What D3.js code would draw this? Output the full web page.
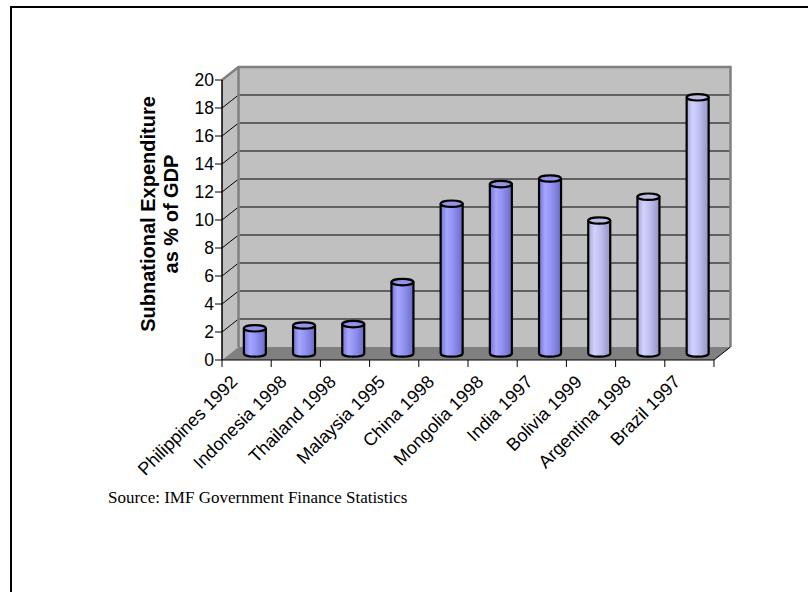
<!DOCTYPE html>
<html>
<head>
<meta charset="utf-8">
<script src="https://cdn.jsdelivr.net/npm/d3@7"></script>
<style>
  html, body { margin: 0; padding: 0; background: #fff; }
  svg { display: block; }
</style>
</head>
<body>
<svg id="chart" width="808" height="592"></svg>
<script>
// Subnational expenditure as a share of GDP, by country and year
const categories = [
  "Philippines 1992", "Indonesia 1998", "Thailand 1998", "Malaysia 1995",
  "China 1998", "Mongolia 1998", "India 1997", "Bolivia 1999",
  "Argentina 1998", "Brazil 1997"
];
const values = [1.8, 2.0, 2.1, 5.1, 10.7, 12.1, 12.5, 9.5, 11.2, 18.3];
const regions = [
  "Asia", "Asia", "Asia", "Asia", "Asia", "Asia", "Asia",
  "Latin America", "Latin America", "Latin America"
];
const yTicks = [0, 2, 4, 6, 8, 10, 12, 14, 16, 18, 20];
const yTitle = ["Subnational Expenditure", "as % of GDP"];
const sourceNote = "Source: IMF Government Finance Statistics";

const svg = d3.select("#chart");

// Front plane of the 3D box; the back wall is shifted by (depthX, depthY)
const x = d3.scaleBand().domain(categories).range([222, 714]).padding(0);
const y = d3.scaleLinear().domain([0, 20]).range([360, 80]);
const depthX = 16.5, depthY = -13;

const x0 = x.range()[0], x1 = x.range()[1];
const yBase = y(0), yTop = y(20);

// Outer frame
svg.append("path")
  .attr("d", "M11,592 V7 H808")
  .attr("fill", "none").attr("stroke", "#000").attr("stroke-width", 2);

// Left wall
svg.append("polygon")
  .attr("points", [[x0, yBase], [x0, yTop], [x0 + depthX, yTop + depthY], [x0 + depthX, yBase + depthY]].join(" "))
  .attr("fill", "#c0c0c0");

// Back wall
svg.append("rect")
  .attr("x", x0 + depthX).attr("y", yTop + depthY)
  .attr("width", x1 - x0).attr("height", yBase - yTop)
  .attr("fill", "#c0c0c0");

// Floor
svg.append("polygon")
  .attr("points", [[x0, yBase], [x0 + depthX, yBase + depthY], [x1 + depthX, yBase + depthY], [x1, yBase]].join(" "))
  .attr("fill", "#808080");

// Gridlines across the back wall and the left wall
const grid = svg.append("g");
yTicks.filter(v => v > 0 && v < 20).forEach(v => {
  grid.append("line")
    .attr("x1", x0 + depthX).attr("x2", x1 + depthX)
    .attr("y1", y(v) + depthY).attr("y2", y(v) + depthY)
    .attr("stroke", "#000").attr("stroke-width", 1);
});
yTicks.filter(v => v > 0 && v < 20).forEach(v => {
  grid.append("line")
    .attr("x1", x0).attr("y1", y(v))
    .attr("x2", x0 + depthX).attr("y2", y(v) + depthY)
    .attr("stroke", "#000").attr("stroke-width", 1);
});

// Wall edges
svg.append("path")
  .attr("d", `M${x0},${yTop} L${x0 + depthX},${yTop + depthY} H${x1 + depthX} V${yBase + depthY}`)
  .attr("fill", "none").attr("stroke", "#808080").attr("stroke-width", 2.5);
svg.append("line")
  .attr("x1", x0 + depthX).attr("x2", x0 + depthX)
  .attr("y1", yTop + depthY).attr("y2", yBase + depthY)
  .attr("stroke", "#808080").attr("stroke-width", 2.5);
svg.append("line")
  .attr("x1", x1).attr("y1", yBase)
  .attr("x2", x1 + depthX).attr("y2", yBase + depthY)
  .attr("stroke", "#000").attr("stroke-width", 1);

// Cylinder shading
const defs = svg.append("defs");
const palette = {
  "Asia": { stops: ["#7272d8", "#a6a6ff", "#8e8ef0", "#6a6ac6"], top: "#9494e6" },
  "Latin America": { stops: ["#a6a6d6", "#d2d2ff", "#bcbcec", "#9494c4"], top: "#bcbce4" }
};
Object.entries(palette).forEach(([name, p], i) => {
  const g = defs.append("linearGradient")
    .attr("id", "cyl" + i).attr("x1", "0%").attr("x2", "100%").attr("y1", "0%").attr("y2", "0%");
  [0, 0.28, 0.6, 1].forEach((o, j) => g.append("stop").attr("offset", o).attr("stop-color", p.stops[j]));
  p.fill = "url(#cyl" + i + ")";
});

// Cylinders stand at the middle of the box depth
const rx = 11, ry = 3.2;
const bars = svg.append("g");
categories.forEach((c, i) => {
  const cx = x(c) + x.bandwidth() / 2 + depthX / 2;
  const by = y(0) + depthY / 2;
  const ty = y(values[i]) + depthY / 2;
  const p = palette[regions[i]];
  bars.append("path")
    .attr("d", `M${cx - rx},${ty} V${by} A${rx},${ry} 0 0 0 ${cx + rx},${by} V${ty} Z`)
    .attr("fill", p.fill).attr("stroke", "#000").attr("stroke-width", 2.2).attr("stroke-linejoin", "round");
  bars.append("ellipse")
    .attr("cx", cx).attr("cy", ty).attr("rx", rx).attr("ry", ry)
    .attr("fill", p.top).attr("stroke", "#000").attr("stroke-width", 2.2);
});

// Value axis on the front-left edge
const yAxis = svg.append("g");
yAxis.append("line")
  .attr("x1", x0).attr("x2", x0).attr("y1", yTop).attr("y2", yBase)
  .attr("stroke", "#000").attr("stroke-width", 1.5);
yTicks.forEach(v => {
  yAxis.append("line")
    .attr("x1", x0 - 7).attr("x2", x0).attr("y1", y(v)).attr("y2", y(v))
    .attr("stroke", "#000").attr("stroke-width", 1);
  yAxis.append("text")
    .attr("x", x0 - 8).attr("y", y(v)).attr("dy", "0.36em")
    .attr("text-anchor", "end")
    .attr("font-family", "Arial, 'Liberation Sans', sans-serif").attr("font-size", 17.5)
    .text(v);
});

// Category axis along the front edge of the floor
const xAxis = svg.append("g");
xAxis.append("line")
  .attr("x1", x0).attr("x2", x1).attr("y1", yBase).attr("y2", yBase)
  .attr("stroke", "#000").attr("stroke-width", 1);
const boundaries = categories.map(c => x(c)).concat([x1]);
boundaries.forEach(bx => {
  xAxis.append("line")
    .attr("x1", bx).attr("x2", bx).attr("y1", yBase).attr("y2", yBase + 7)
    .attr("stroke", "#000").attr("stroke-width", 1);
});
categories.forEach(c => {
  const lx = x(c) + x.bandwidth() / 2 - 8, ly = yBase + 23;
  xAxis.append("text")
    .attr("transform", `translate(${lx},${ly}) rotate(-45)`)
    .attr("text-anchor", "end")
    .attr("font-family", "Arial, 'Liberation Sans', sans-serif").attr("font-size", 18)
    .text(c);
});

// Value axis title
const title = svg.append("text")
  .attr("transform", "translate(155,214) rotate(-90)")
  .attr("text-anchor", "middle")
  .attr("font-family", "Arial, 'Liberation Sans', sans-serif")
  .attr("font-size", 20).attr("font-weight", "bold");
yTitle.forEach((t, i) => {
  title.append("tspan").attr("x", 0).attr("dy", i === 0 ? 0 : 23).text(t);
});

// Source note
svg.append("text")
  .attr("x", 108).attr("y", 503)
  .attr("font-family", "'Times New Roman', 'Liberation Serif', serif")
  .attr("font-size", 17)
  .text(sourceNote);
</script>
</body>
</html>
